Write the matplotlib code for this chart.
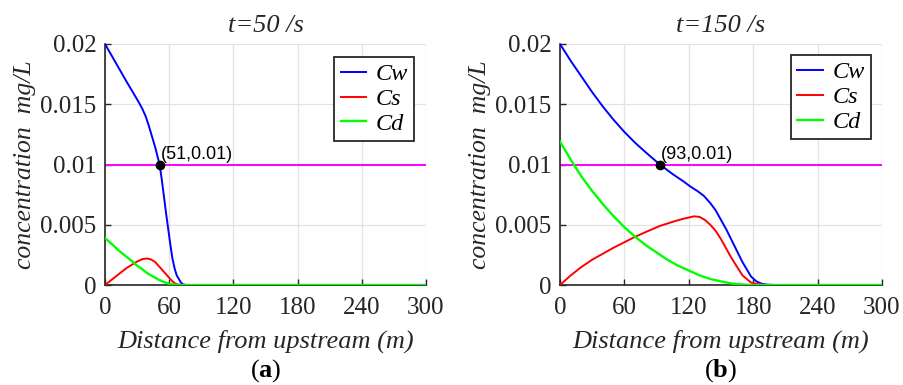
import matplotlib
matplotlib.use("Agg")
import matplotlib.pyplot as plt

plt.rcParams['font.family'] = ['Liberation Serif', 'DejaVu Serif']
plt.rcParams['mathtext.fontset'] = 'custom'
plt.rcParams['mathtext.rm'] = 'Liberation Serif'
plt.rcParams['mathtext.bf'] = 'Liberation Serif:bold'

# ---------------- data: panel (a) t=50 s ----------------
a_cw_x = [0, 10, 20, 28, 32, 35, 38, 41, 44, 47, 49, 51, 53, 55, 57, 59, 61, 63, 65, 67, 69, 71, 73, 76, 300]
a_cw_y = [0.0200, 0.01845, 0.0169, 0.0157, 0.0151, 0.0146, 0.0140, 0.0132, 0.0123, 0.0114, 0.0107,
          0.0100, 0.0088, 0.0074, 0.0060, 0.0047, 0.0034, 0.0022, 0.0014, 0.0008, 0.0005, 0.0002,
          0.00005, 0.0, 0.0]
a_cs_x = [0, 10, 20, 30, 35, 39, 43, 47, 51, 55, 59, 62, 65, 68, 72, 300]
a_cs_y = [0.0, 0.0007, 0.0014, 0.00195, 0.00215, 0.0022, 0.00212, 0.0019, 0.0015, 0.0011, 0.0007,
          0.0004, 0.00015, 0.00004, 0.0, 0.0]
a_cd_x = [0, 5, 10, 15, 20, 25, 30, 35, 40, 45, 50, 55, 60, 65, 70, 300]
a_cd_y = [0.0039, 0.0035, 0.0031, 0.0027, 0.00235, 0.0020, 0.0016, 0.0013, 0.00095, 0.0007, 0.00045,
          0.00025, 0.0001, 0.00003, 0.0, 0.0]
a_point = (51, 0.01)

# ---------------- data: panel (b) t=150 s ----------------
b_cw_x = [0, 10, 20, 30, 40, 50, 60, 70, 80, 93, 105, 115, 121, 128, 134, 140, 145, 150, 155, 160,
          165, 170, 174, 178, 183, 188, 193, 200, 300]
b_cw_y = [0.0200, 0.0186, 0.0173, 0.0160, 0.0148, 0.0137, 0.0127, 0.0118, 0.0110, 0.0100, 0.0092,
          0.0086, 0.0082, 0.0078, 0.0074, 0.0068, 0.0062, 0.0054, 0.0046, 0.0037, 0.0028, 0.0019,
          0.0013, 0.0007, 0.0003, 0.0001, 0.00003, 0.0, 0.0]
b_cs_x = [0, 10, 20, 30, 40, 50, 60, 70, 80, 93, 107, 115, 120, 125, 130, 135, 140, 145, 150, 155,
          160, 165, 170, 174, 178, 183, 190, 300]
b_cs_y = [0.0, 0.0008, 0.0015, 0.0021, 0.0026, 0.0031, 0.00355, 0.0040, 0.0044, 0.0049, 0.0053,
          0.0055, 0.0056, 0.0057, 0.00565, 0.0054, 0.0050, 0.0045, 0.0038, 0.0030, 0.0022, 0.0015,
          0.0008, 0.0005, 0.0002, 0.0001, 0.0, 0.0]
b_cd_x = [0, 10, 20, 30, 40, 50, 60, 70, 80, 90, 100, 110, 120, 130, 140, 150, 160, 170, 180, 300]
b_cd_y = [0.0119, 0.0104, 0.0090, 0.0078, 0.0067, 0.0057, 0.0048, 0.0040, 0.0033, 0.0027, 0.0021,
          0.0016, 0.0012, 0.0008, 0.0005, 0.0003, 0.00012, 0.00004, 0.0, 0.0]
b_point = (93, 0.01)

threshold = 0.01
titles = ['t=50 /s', 't=150 /s']
panel_labels = ['a', 'b']
xticks = [0, 60, 120, 180, 240, 300]
yticks = [0, 0.005, 0.01, 0.015, 0.02]
yticklabels = ['0', '0.005', '0.01', '0.015', '0.02']

fig = plt.figure(figsize=(9.04, 3.85), dpi=100)
axes = [fig.add_axes([105/904, 100/385, 321/904, 241/385]),
        fig.add_axes([560/904, 100/385, 322/904, 241/385])]

panels = [(a_cw_x, a_cw_y, a_cs_x, a_cs_y, a_cd_x, a_cd_y, a_point),
          (b_cw_x, b_cw_y, b_cs_x, b_cs_y, b_cd_x, b_cd_y, b_point)]
legend_anchor = [(0.963, 0.946), (0.965, 0.954)]

for i, (ax, p) in enumerate(zip(axes, panels)):
    cwx, cwy, csx, csy, cdx, cdy, pt = p
    ax.axhline(threshold, color=(1, 0, 1), lw=1.4, zorder=2)
    l1, = ax.plot(cwx, cwy, color=(0, 0, 1), lw=1.4, label='Cw', zorder=3)
    l2, = ax.plot(csx, csy, color=(1, 0, 0), lw=1.4, label='Cs', zorder=3)
    l3, = ax.plot(cdx, cdy, color=(0, 1, 0), lw=1.7, label='Cd', zorder=4)
    ax.plot([pt[0]], [pt[1]], 'o', color='black', ms=6, zorder=5)
    ax.annotate('(%d,%.2f)' % (pt[0], pt[1]), xy=pt, xytext=(1, 1), textcoords='offset points',
                ha='left', va='bottom', fontsize=13, family='Liberation Sans', zorder=6)
    ax.set_xlim(0, 300)
    ax.set_ylim(0, 0.02)
    ax.set_xticks(xticks)
    ax.set_yticks(yticks)
    ax.set_yticklabels(yticklabels)
    ax.tick_params(direction='in', length=4, width=1, labelsize=18, colors='#262626')
    ax.tick_params(axis='x', pad=9)
    ax.tick_params(axis='y', pad=6)
    ax.grid(True, color='#e3e3e3', lw=0.9)
    ax.set_axisbelow(True)
    for s in ['top', 'right']:
        ax.spines[s].set_visible(False)
    for s in ['left', 'bottom']:
        ax.spines[s].set_color('#262626')
        ax.spines[s].set_linewidth(1.2)
    ax.set_title(titles[i], fontsize=19, style='italic', pad=9, color='#262626')
    ax.set_xlabel('Distance from upstream (m)', fontsize=19, style='italic', color='#262626',
                  labelpad=7)
    ax.set_ylabel('concentration  mg/L', fontsize=18.5, style='italic', color='#262626',
                  labelpad=3)
    leg = ax.legend(handles=[l1, l2, l3], loc='upper right', bbox_to_anchor=legend_anchor[i],
                    borderaxespad=0, fancybox=False, framealpha=1, edgecolor='#262626',
                    prop={'style': 'italic', 'size': 17.5}, handlelength=1.05, handletextpad=0.4,
                    labelspacing=0.12, borderpad=0.25)
    leg.get_frame().set_linewidth(1.3)
    ax.text(0.5, -0.30, r'($\mathbf{%s}$)' % panel_labels[i], transform=ax.transAxes,
            ha='center', va='top', fontsize=19)

fig.savefig('out.png', dpi=100)
